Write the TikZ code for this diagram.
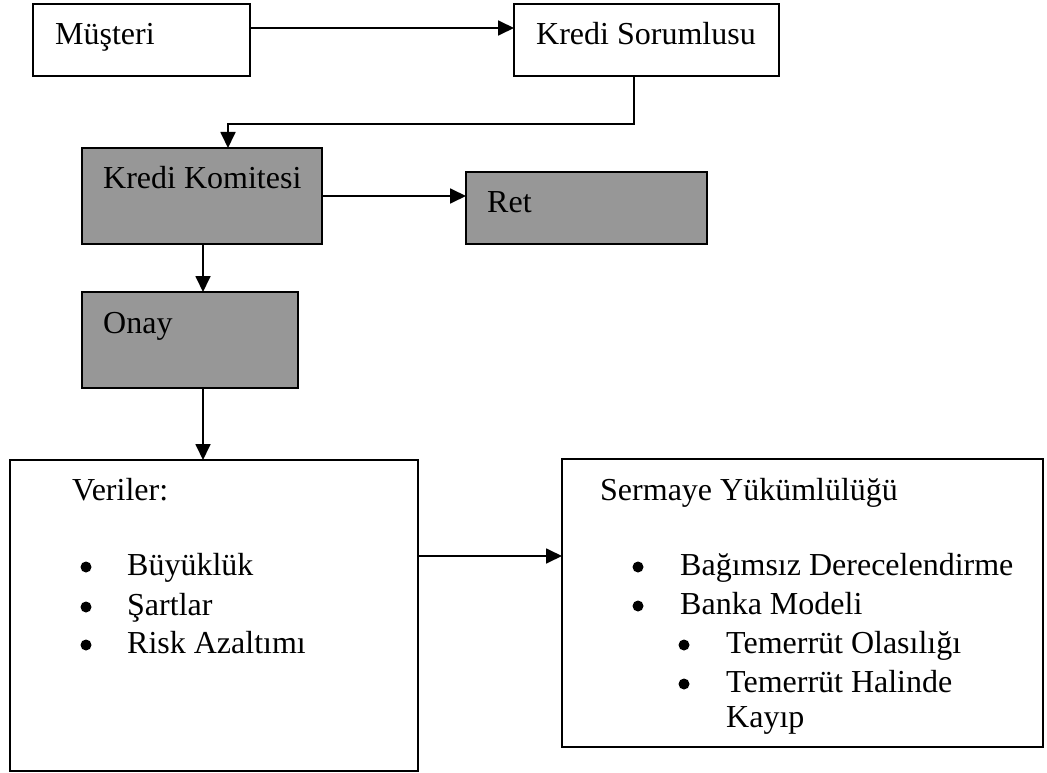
\documentclass[tikz,border=0pt]{standalone}
\usepackage{fontspec}
\setmainfont{Liberation Serif}
\usetikzlibrary{arrows.meta,calc}
\definecolor{boxgray}{RGB}{151,151,151}
\tikzset{
  box/.style={draw=black, line width=1.9pt, inner sep=0pt, outer sep=0pt, anchor=north west},
  graybox/.style={box, fill=boxgray},
  arr/.style={line width=1.8pt, -{Triangle[length=16pt,width=15pt]}},
  txt/.style={anchor=base west, inner sep=0pt, font=\fontsize{32}{39}\selectfont},
  bul/.style={circle, fill=black, inner sep=0pt, minimum size=11pt}
}
\begin{document}
\begin{tikzpicture}[x=1pt,y=-1pt]
\useasboundingbox (0,0) rectangle (1047,773);
% boxes
\node[box, minimum width=217pt, minimum height=72pt] (mus) at (33,4) {};
\node[box, minimum width=265pt, minimum height=72pt] (ks) at (514,4) {};
\node[graybox, minimum width=240pt, minimum height=96pt] (kk) at (82,148) {};
\node[graybox, minimum width=241pt, minimum height=72pt] (ret) at (466,172) {};
\node[graybox, minimum width=216pt, minimum height=96pt] (onay) at (82,292) {};
\node[box, minimum width=408pt, minimum height=311pt] (ver) at (10,460) {};
\node[box, minimum width=481pt, minimum height=288pt] (ser) at (562,459) {};
% connectors
\draw[arr] ([yshift=12pt]mus.east) -- ([yshift=12pt]ks.west);
\draw[arr] ([xshift=-12.5pt]ks.south) -- ++(0,48) -| ([xshift=26pt]kk.north);
\draw[arr] (kk.east) -- (kk.east -| ret.west);
\draw[arr] ([xshift=1pt]kk.south) -- ([xshift=1pt]kk.south |- onay.north);
\draw[arr] ([xshift=13pt]onay.south) -- ([xshift=13pt]onay.south |- ver.north);
\draw[arr] ([yshift=59.5pt]ver.east) -- ([yshift=59.5pt]ver.east -| ser.west);
% texts
\node[txt] (t1) at (55,45) {Müşteri};
\node[txt] (t2) at (536,45) {Kredi Sorumlusu};
\node[txt] (t3) at (103,188) {Kredi Komitesi};
\node[txt] (t4) at (487,212) {Ret};
\node[txt] (t5) at (103,333) {Onay};
\node[txt] (t6) at (72,500) {Veriler:};
\node[bul] (b1) at (86,567) {};
\node[bul] (b2) at (86,607) {};
\node[bul] (b3) at (86,645) {};
\node[txt] (t7) at (127,575) {Büyüklük};
\node[txt] (t8) at (127,615) {Şartlar};
\node[txt] (t9) at (127,653) {Risk Azaltımı};
\node[txt] (t10) at (600,500) {Sermaye Yükümlülüğü};
\node[bul] (b4) at (638,567) {};
\node[bul] (b5) at (638,606) {};
\node[bul] (b6) at (684,645) {};
\node[bul] (b7) at (684,684) {};
\node[txt] (t11) at (680,575) {Bağımsız Derecelendirme};
\node[txt] (t12) at (680,614) {Banka Modeli};
\node[txt] (t13) at (726,653) {Temerrüt Olasılığı};
\node[txt] (t14) at (726,692) {Temerrüt Halinde};
\node[txt] (t15) at (726,727) {Kayıp};
\end{tikzpicture}
\end{document}
